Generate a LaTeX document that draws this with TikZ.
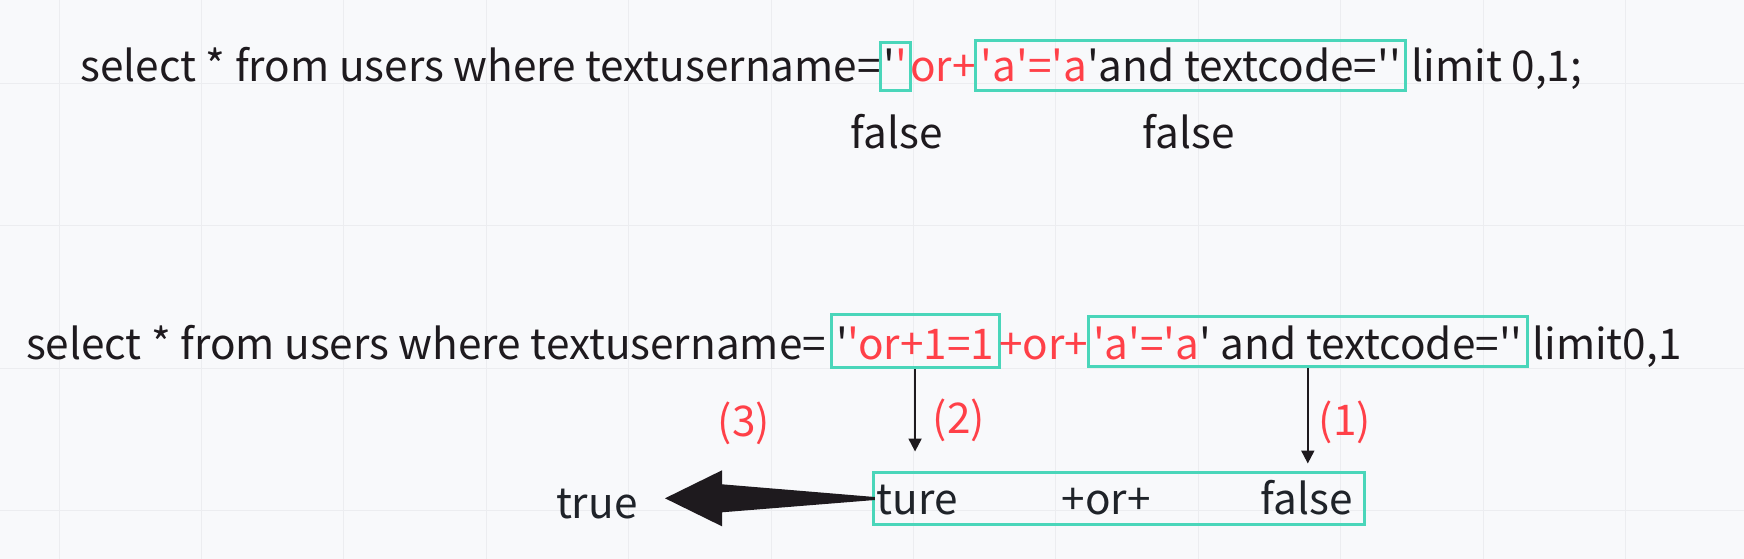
\documentclass[tikz,border=0pt]{standalone}
\usepackage{fontspec}
\newfontfamily\cjk{Noto Sans CJK SC}
\usetikzlibrary{arrows.meta,calc}
\definecolor{bg}{HTML}{F8F9FB}
\definecolor{gridc}{HTML}{ECEDF0}
\definecolor{ink}{HTML}{1E1A1E}
\definecolor{ink2}{HTML}{1F2329}
\definecolor{hl}{HTML}{FF4048}
\definecolor{teal}{HTML}{4AD6BA}
\newcommand{\sq}{\char"27\relax}
\newcommand{\rd}[1]{\textcolor{hl}{#1}}
\begin{document}
\begin{tikzpicture}[x=1pt,y=-1pt,
  every node/.style={font=\cjk\fontsize{42.3}{50}\selectfont, text=ink, inner sep=0pt, outer sep=0pt},
  seg/.style={anchor=base west},
  hbox/.style={seg, draw=teal, line width=3pt, inner xsep=5pt, inner ysep=0pt},
  arr/.style={draw=ink, line width=2pt, -{Triangle[length=13pt,width=13pt]}},
  redt/.style={text=hl},
]
\useasboundingbox (0,0) rectangle (1744,559);
\fill[bg] (0,0) rectangle (1744,559);
\foreach \k in {0,...,11} \draw[gridc, line width=1pt] ({59+142.4*\k},0) -- ({59+142.4*\k},559);
\foreach \k in {0,...,3} \draw[gridc, line width=1pt] (0,{83.3+142.4*\k}) -- (1744,{83.3+142.4*\k});

% line 1
\node[seg] (n1a) at (80.7,81.7) {select * from users where textusername=};
\node[hbox, text height=39pt, text depth=9pt, inner xsep=3pt] (b1) at (n1a.base east) {\sq\rd{\sq}};
\node[seg, redt] (n1c) at (b1.base east) {or+};
\node[hbox, text height=41pt, text depth=9pt] (b2) at (n1c.base east) {\rd{\sq a\sq=\sq a}\sq and textcode=\sq\sq};
\node[seg, xshift=6pt] (n1e) at (b2.base east) {limit 0,1;};
\node[seg] (f1) at (850.7,148.3) {false};
\node[seg] (f2) at (1142.7,148.3) {false};

% line 2
\node[seg] (n2a) at (26,359) {select * from users where textusername=};
\node[hbox, text height=45pt, text depth=8pt, xshift=5pt] (bA) at (n2a.base east) {\sq\rd{\sq or+1=1}};
\node[seg, redt] (n2c) at (bA.base east) {+or+};
\node[hbox, text height=42.5pt, text depth=7pt] (bB) at (n2c.base east) {\rd{\sq a\sq=\sq a}\sq\ and textcode=\sq\sq\ };
\node[seg, xshift=5pt] (n2e) at (bB.base east) {limit0,1};

% result box
\node[draw=teal, line width=3pt, minimum width=490.4pt, minimum height=52pt, anchor=north west] (res) at (873.8,472.5) {};
\node[seg, text=ink2] (rt1) at (876.7,514) {ture};
\node[seg, text=ink2] (rt2) at (1061.7,514) {+or+};
\node[anchor=base east, text=ink2] (rt3) at (1352.7,514) {false};

\draw[arr, shorten <=2pt, shorten >=21pt] (bA.south) -- (bA.south |- res.north);
\draw[arr, shorten <=2pt, shorten >=9pt] (bB.south) -- (bB.south |- res.north);
\node[redt] (l2) at (959,420) {(2)};
\node[redt] (l1) at (1345,422) {(1)};
\node[redt] (l3) at (744,423) {(3)};

\coordinate (tip3) at (665,498.3);
\fill[ink] ($(res.west)+(1,-1.5)$) -- ($(tip3)+(57,-14)$) -- ($(tip3)+(57,-28)$) -- (tip3) -- ($(tip3)+(57,28)$) -- ($(tip3)+(57,14)$) -- ($(res.west)+(1,1.5)$) -- cycle;
\node[seg, text=ink2] (tr) at (556,518) {true};
\end{tikzpicture}
\end{document}
